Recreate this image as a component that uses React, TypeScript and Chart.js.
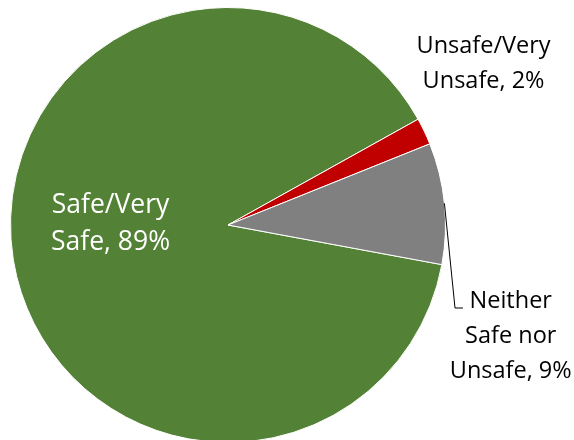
import React, { useEffect, useRef } from "react";
import { Chart, registerables } from "chart.js";

Chart.register(...registerables);

const categories = ["Safe/Very Safe", "Unsafe/Very Unsafe", "Neither Safe nor Unsafe"];
const values = [89, 2, 9];
const colors = ["#538135", "#C00000", "#808080"];
const labelLines = [
  ["Safe/Very", "Safe, 89%"],
  ["Unsafe/Very", "Unsafe, 2%"],
  ["Neither", "Safe nor", "Unsafe, 9%"],
];

const FONT_IN = "26.5px 'Open Sans', 'Noto Sans', sans-serif";
const FONT_OUT = "23.5px 'Open Sans', 'Noto Sans', sans-serif";

const labelPlugin = {
  id: "pieLabels",
  afterDatasetsDraw(chart: any) {
    const meta = chart.getDatasetMeta(0);
    const arcs = meta.data;
    if (!arcs.length) return;
    const { x: cx, y: cy, outerRadius: r } = arcs[0].getProps(["x", "y", "outerRadius"], true);
    const ctx = chart.ctx;
    ctx.save();
    ctx.textAlign = "center";
    ctx.textBaseline = "alphabetic";

    // Safe label (inside, white)
    ctx.font = FONT_IN;
    ctx.fillStyle = "#FFFFFF";
    const safeX = cx - 0.54 * r;
    labelLines[0].forEach((t, i) => ctx.fillText(t, safeX, cy - 12 + i * 37));

    // Unsafe label (outside, black)
    ctx.font = FONT_OUT;
    ctx.fillStyle = "#000000";
    const unX = cx + 1.175 * r;
    labelLines[1].forEach((t, i) => ctx.fillText(t, unX, cy - 172 + i * 35));

    // Neither label
    const neX = cx + 1.3 * r;
    labelLines[2].forEach((t, i) => ctx.fillText(t, neX, cy + 83 + i * 35));

    // leader line from gray slice edge
    const gray = arcs[2].getProps(["startAngle", "endAngle"], true);
    const ang = gray.startAngle + (gray.endAngle - gray.startAngle) * 0.5;
    const sx = cx + r * Math.cos(ang);
    const sy = cy + r * Math.sin(ang);
    ctx.strokeStyle = "#000000";
    ctx.lineWidth = 1;
    ctx.beginPath();
    ctx.moveTo(sx, sy);
    ctx.lineTo(cx + 227, cy + 83);
    ctx.lineTo(cx + 235, cy + 83);
    ctx.stroke();
    ctx.restore();
  },
};

export default function App() {
  const ref = useRef<HTMLCanvasElement>(null);
  useEffect(() => {
    document.body.style.margin = "0";
    const chart = new Chart(ref.current!, {
      type: "pie",
      data: {
        labels: categories,
        datasets: [
          {
            data: values,
            backgroundColor: colors,
            borderColor: "#FFFFFF",
            borderWidth: 1,
            hoverOffset: 0,
          },
        ],
      },
      options: {
        responsive: false,
        animation: false,
        events: [],
        rotation: 100.5,
        layout: { padding: { left: 10, right: 128, top: 7, bottom: 7 } },
        plugins: {
          legend: { display: false },
          tooltip: { enabled: false },
          title: { display: false },
        },
      },
      plugins: [labelPlugin],
    });
    return () => chart.destroy();
  }, []);
  return (
    <div style={{ position: "fixed", left: 0, top: 0, width: 574, height: 440, overflow: "hidden", background: "#fff" }}>
      <canvas ref={ref} width={574} height={450} style={{ display: "block" }} />
    </div>
  );
}
